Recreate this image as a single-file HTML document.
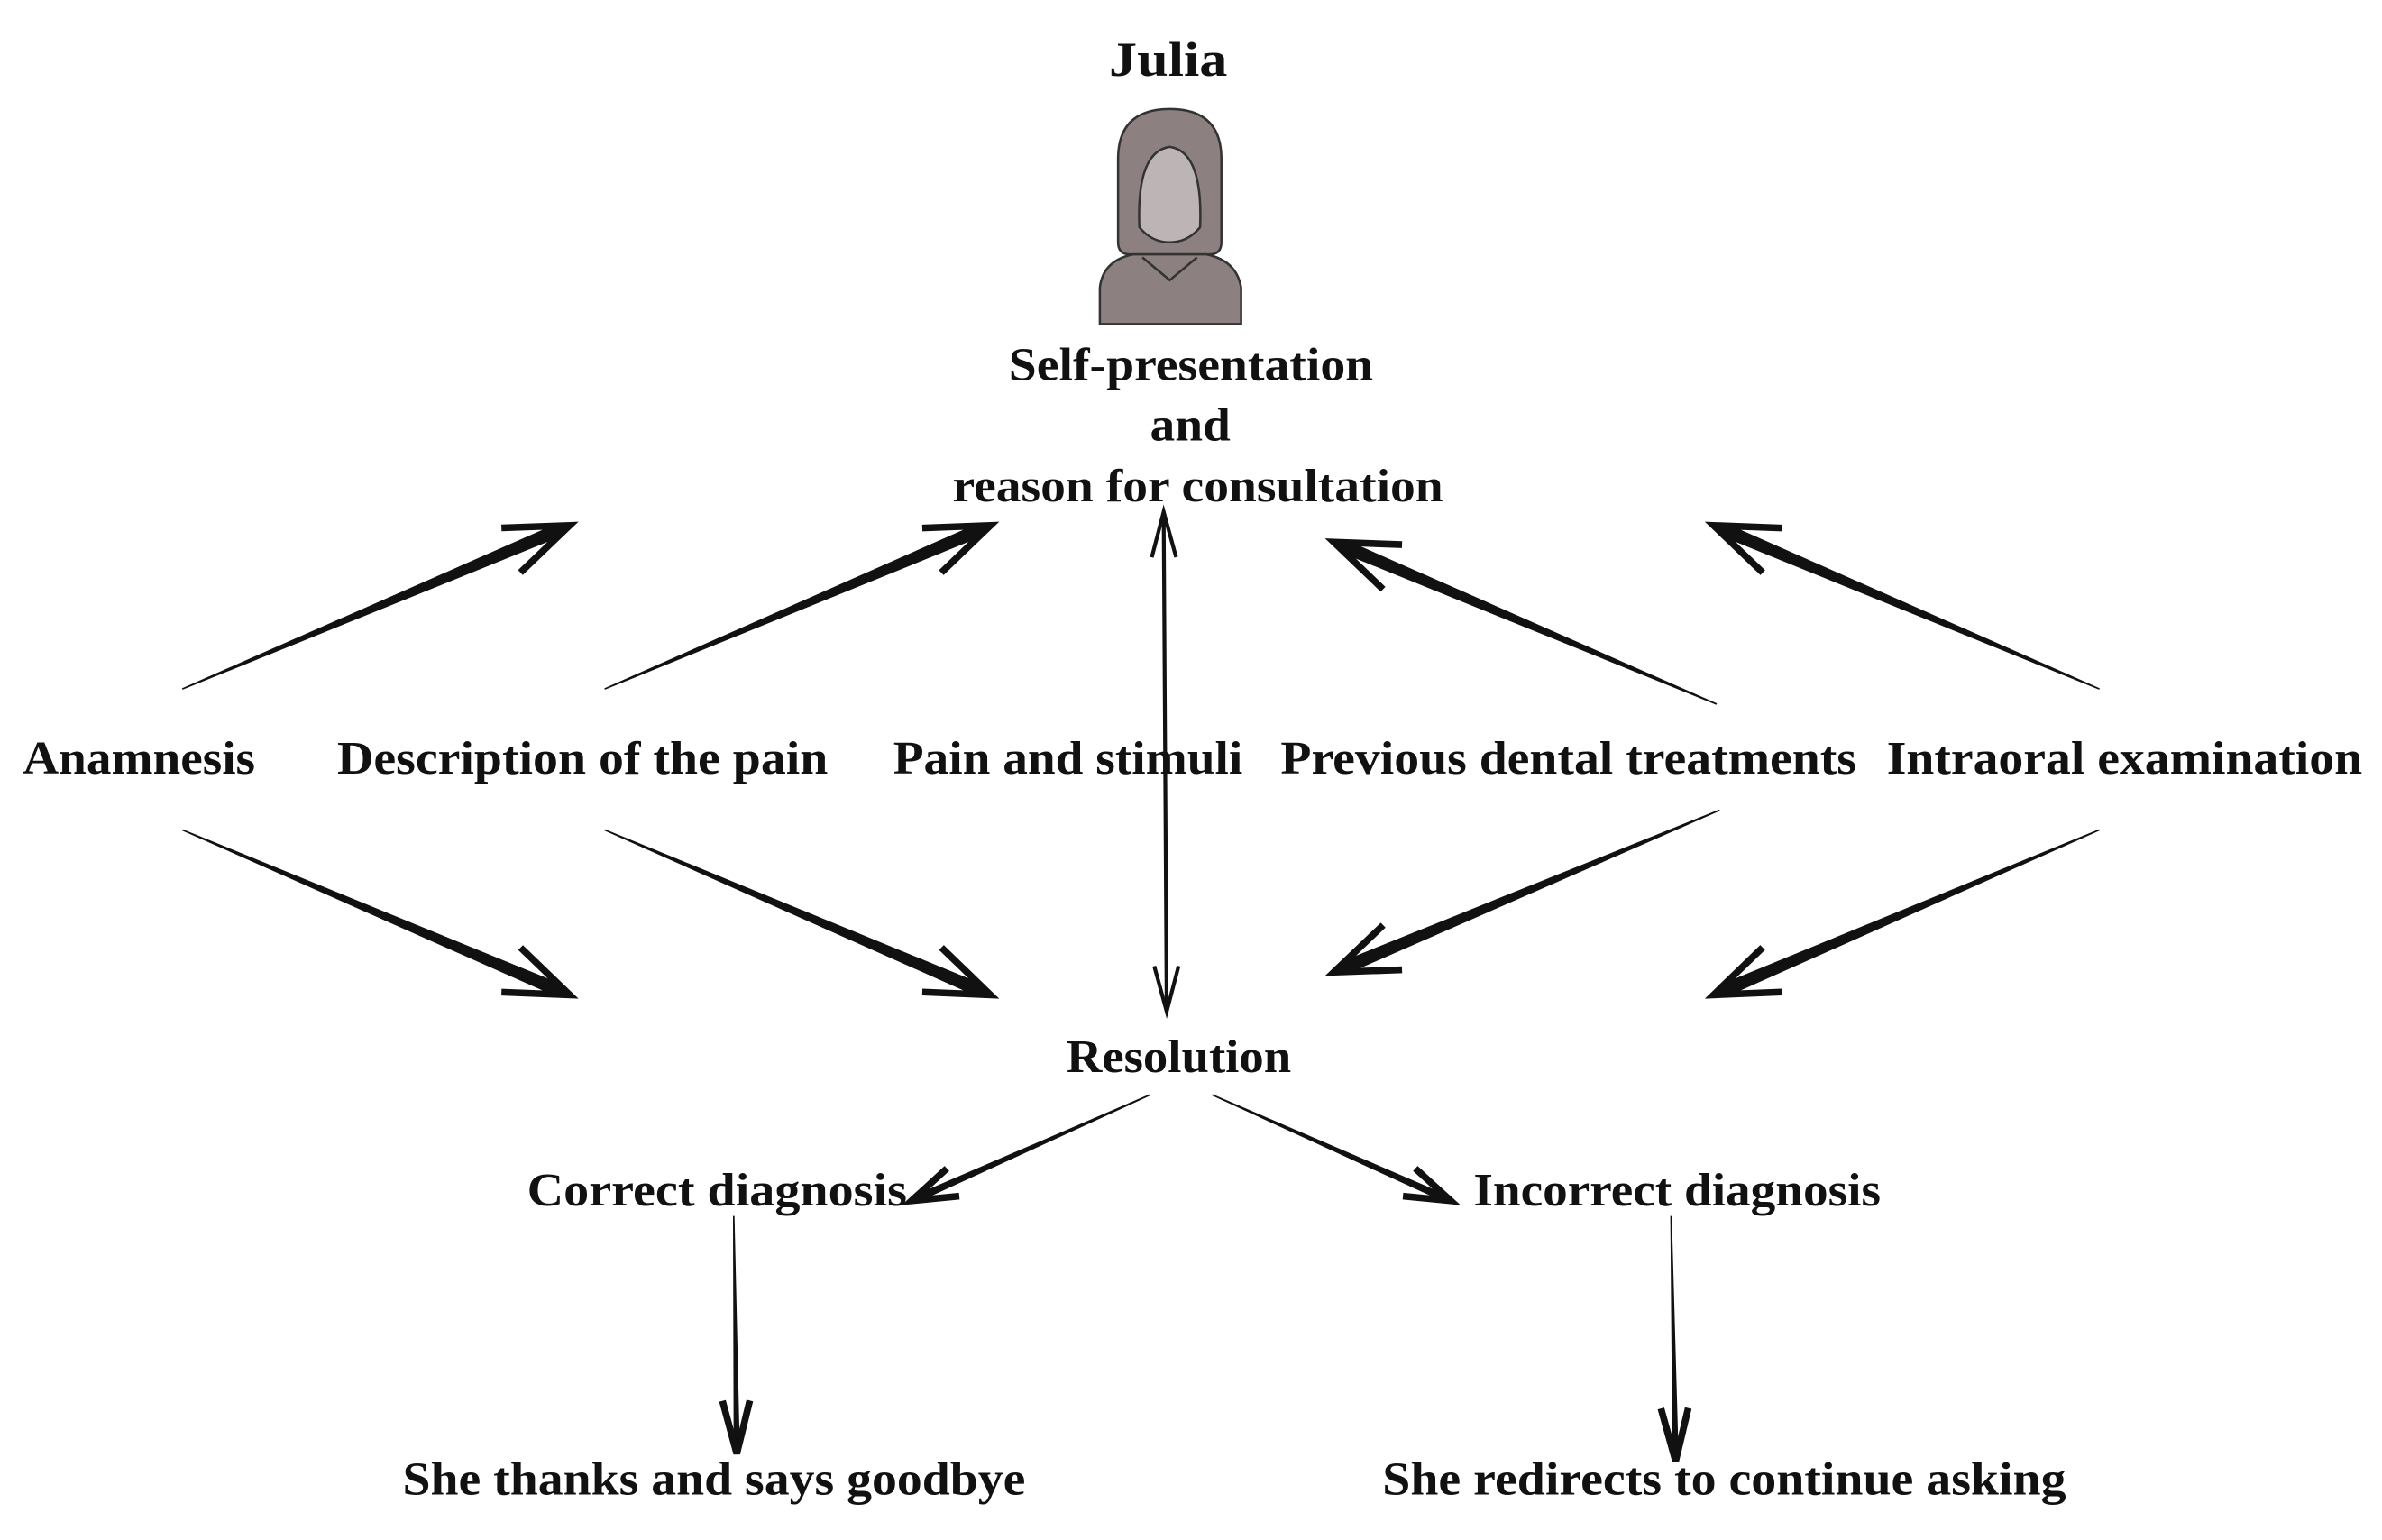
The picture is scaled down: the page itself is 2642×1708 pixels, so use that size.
<!DOCTYPE html>
<html><head><meta charset="utf-8"><style>
html,body{margin:0;padding:0;background:#fff;}
svg{display:block;}
text{font-family:"Liberation Serif",serif;font-weight:bold;fill:#111;}
</style></head><body>
<svg id="s" width="2642" height="1708" viewBox="0 0 1568 1017" preserveAspectRatio="none" xmlns="http://www.w3.org/2000/svg">
<rect width="1568" height="1017" fill="#fff"/>
<text x="730" y="50" font-size="32" textLength="78" lengthAdjust="spacingAndGlyphs">Julia</text>
<g stroke="#333" stroke-width="1.5">
<path d="M736,160 L736,105 Q736,72 770,72 Q804,72 804,105 L804,160 Q804,168 796,168 L744,168 Q736,168 736,160Z" fill="#8c8080"/>
<path d="M724,214 L724,190 Q726,172 746,168 L794,168 Q814,172 817,190 L817,214Z" fill="#8c8080"/>
<path d="M752,170 L770,185 L788,170" fill="none"/>
<path d="M750,150 Q748,100 770,97 Q792,100 790,150 Q782,160 770,160 Q758,160 750,150 Z" fill="#bdb5b5"/>
</g>
<g font-size="31">
<text x="664" y="251" textLength="240" lengthAdjust="spacingAndGlyphs">Self-presentation</text>
<text x="757" y="291" textLength="53" lengthAdjust="spacingAndGlyphs">and</text>
<text x="627" y="331" textLength="323" lengthAdjust="spacingAndGlyphs">reason for consultation</text>
<text x="15" y="511" textLength="153" lengthAdjust="spacingAndGlyphs">Anamnesis</text>
<text x="222" y="511" textLength="323" lengthAdjust="spacingAndGlyphs">Description of the pain</text>
<text x="588" y="511" textLength="230" lengthAdjust="spacingAndGlyphs">Pain and stimuli</text>
<text x="843" y="511" textLength="379" lengthAdjust="spacingAndGlyphs">Previous dental treatments</text>
<text x="1242" y="511" textLength="313" lengthAdjust="spacingAndGlyphs">Intraoral examination</text>
<text x="702" y="708" textLength="148" lengthAdjust="spacingAndGlyphs">Resolution</text>
<text x="347" y="796" textLength="250" lengthAdjust="spacingAndGlyphs">Correct diagnosis</text>
<text x="970" y="796" textLength="268" lengthAdjust="spacingAndGlyphs">Incorrect diagnosis</text>
<text x="265" y="987" textLength="410" lengthAdjust="spacingAndGlyphs">She thanks and says goodbye</text>
<text x="910" y="987" textLength="450" lengthAdjust="spacingAndGlyphs">She redirects to continue asking</text>
</g>
<g id="arrows"></g>
</svg>
<script>
var g=document.getElementById('arrows');var NS='http://www.w3.org/2000/svg';
function arrow(x1,y1,x2,y2,w0,w1,hl,hw,both){
 var dx=x2-x1,dy=y2-y1,L=Math.hypot(dx,dy),ux=dx/L,uy=dy/L,px=-uy,py=ux;
 var ex=x2-ux*6,ey=y2-uy*6;
 var pts=[[x1+px*w0/2,y1+py*w0/2],[ex+px*w1/2,ey+py*w1/2],[x2,y2],[ex-px*w1/2,ey-py*w1/2],[x1-px*w0/2,y1-py*w0/2]];
 var p=document.createElementNS(NS,'polygon');p.setAttribute('points',pts.map(function(a){return a.join(',')}).join(' '));p.setAttribute('fill','#111');g.appendChild(p);
 function head(tx,ty,vx,vy){
  var a=[tx-vx*hl+(-vy)*hw,ty-vy*hl+vx*hw],b=[tx-vx*hl-(-vy)*hw,ty-vy*hl-vx*hw];
  var q=document.createElementNS(NS,'polyline');q.setAttribute('points',a.join(',')+' '+tx+','+ty+' '+b.join(','));
  q.setAttribute('fill','none');q.setAttribute('stroke','#111');q.setAttribute('stroke-width',both?2.5:4.5);q.setAttribute('stroke-linejoin','miter');g.appendChild(q);}
 head(x2,y2,ux,uy);
 if(both)head(x1,y1,-ux,-uy);
}
arrow(120,455,375,347,1,9,42,16);
arrow(398,455,652,347,1,9,42,16);
arrow(1130,465,878,358,1,9,42,16);
arrow(1382,455,1128,347,1,9,42,16);
arrow(120,548,375,657,1,9,42,16);
arrow(398,548,652,657,1,9,42,16);
arrow(1132,535,878,642,1,9,42,16);
arrow(1382,548,1128,657,1,9,42,16);
arrow(766,338,768,668,2.5,2.5,30,8,true);
arrow(757,723,600,793,1,5,30,10);
arrow(798,723,955,793,1,5,30,10);
arrow(483,803,485,960,1,4,35,9);
arrow(1100,803,1103,965,1,4,35,9);
</script>
</body></html>
